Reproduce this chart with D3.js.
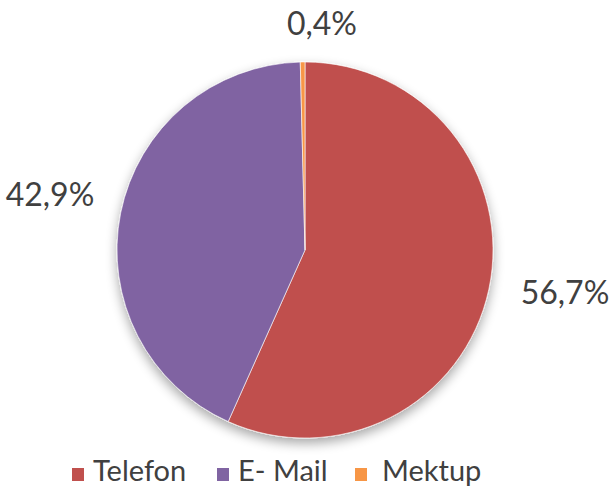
<!DOCTYPE html>
<html>
<head>
<meta charset="utf-8">
<script src="https://cdn.jsdelivr.net/npm/d3@7.9.0/dist/d3.min.js"></script>
<style>
  body { margin: 0; background: #fff; }
  svg { display: block; }
  text { font-family: Lato, "Open Sans", sans-serif; fill: #404040; }
</style>
</head>
<body>
<svg width="612" height="488"></svg>
<script>
const categories = ['Telefon', 'E- Mail', 'Mektup'];
const values = [56.7, 42.9, 0.4];
const labels = ['56,7%', '42,9%', '0,4%'];
const colors = ['#C0504D', '#8064A2', '#F79646'];

const svg = d3.select('svg');
const cx = 305, cy = 250, r = 188;

// soft shadow under the pie
const defs = svg.append('defs');
const f = defs.append('filter').attr('id', 'shadow')
  .attr('x', '-20%').attr('y', '-20%').attr('width', '140%').attr('height', '140%');
f.append('feGaussianBlur').attr('in', 'SourceAlpha').attr('stdDeviation', 6);
f.append('feOffset').attr('dx', 0).attr('dy', 5).attr('result', 'b');
f.append('feComponentTransfer').append('feFuncA').attr('type', 'linear').attr('slope', 0.35);
const m = f.append('feMerge');
m.append('feMergeNode');
m.append('feMergeNode').attr('in', 'SourceGraphic');

const pie = d3.pie().sort(null).value(d => d);
const arcs = pie(values);
const arc = d3.arc().innerRadius(0).outerRadius(r);

const g = svg.append('g').attr('transform', `translate(${cx},${cy})`);
const slices = g.append('g').attr('filter', 'url(#shadow)');
slices.selectAll('path')
  .data(arcs)
  .join('path')
  .attr('d', arc)
  .attr('fill', (d, i) => colors[i])
  .attr('stroke', '#fff')
  .attr('stroke-width', 0.6);

// data labels outside
const labelPos = [[260, 54], [-255, -44], [17, -215]];
g.selectAll('text.lbl')
  .data(arcs)
  .join('text')
  .attr('class', 'lbl')
  .attr('x', (d, i) => labelPos[i][0])
  .attr('y', (d, i) => labelPos[i][1])
  .attr('text-anchor', 'middle')
  .attr('font-size', 32)
  .text((d, i) => labels[i]);

// legend
const legendX = [72, 217, 355];
const lg = svg.append('g');
categories.forEach((c, i) => {
  lg.append('rect').attr('x', legendX[i]).attr('y', 468)
    .attr('width', 12).attr('height', 13).attr('fill', colors[i]);
  lg.append('text').attr('x', legendX[i] + (i === 2 ? 27 : 21)).attr('y', 481)
    .attr('font-size', 29).text(c);
});
</script>
</body>
</html>
